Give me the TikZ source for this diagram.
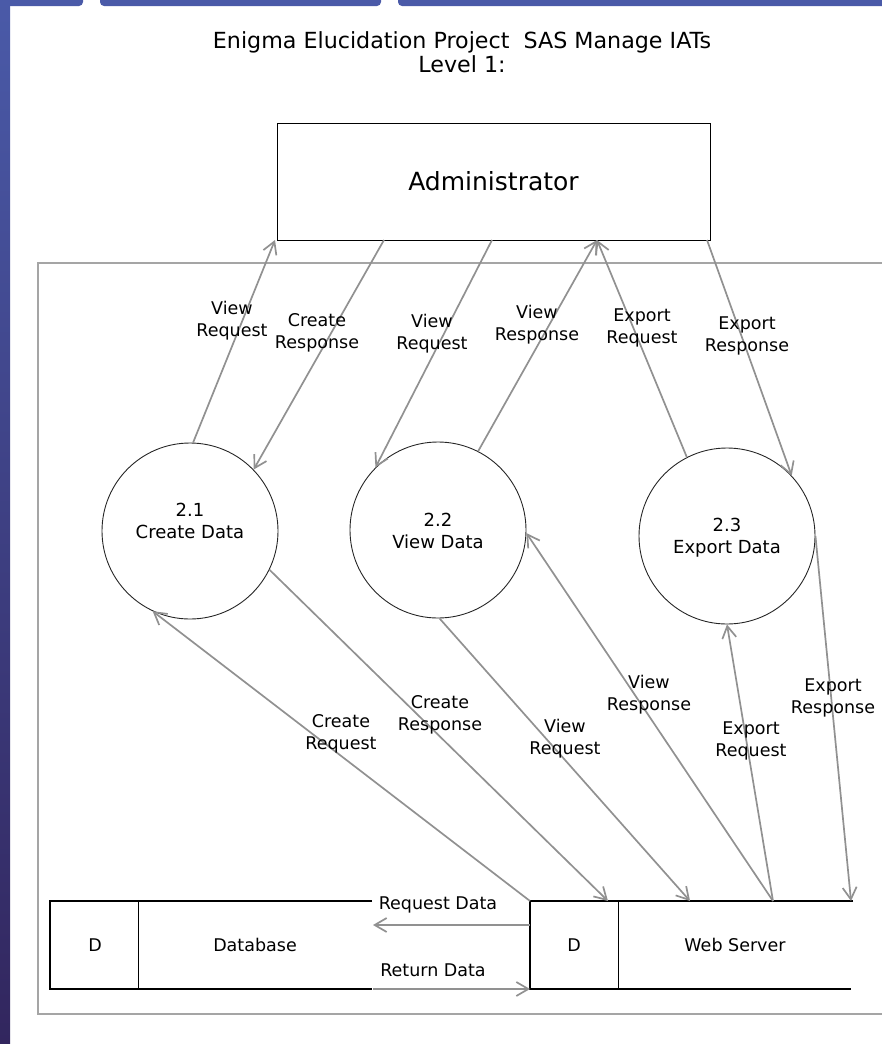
\documentclass[tikz,border=0pt]{standalone}
\usepackage{fontspec}
\setmainfont{DejaVu Sans}
\usetikzlibrary{arrows.meta}
\definecolor{barblue}{RGB}{74,90,168}
\definecolor{barpurple}{RGB}{50,38,94}
\definecolor{flowgray}{RGB}{145,145,145}
\definecolor{boxgray}{RGB}{165,165,165}

\begin{document}
\begin{tikzpicture}[x=1pt,y=-1pt,
  flow/.style={draw=flowgray,line width=1.7pt,-{Straight Barb[length=12pt,width=14pt]}},
  proc/.style={circle,draw=black!85,line width=0.9pt,minimum size=176pt,inner sep=0pt},
  lbl/.style={inner sep=0pt,align=center,font=\fontsize{17.5}{22}\selectfont},
  store/.style={black,line width=1.3pt}]
\useasboundingbox (0,0) rectangle (881,1044);
\shade[top color=barblue,bottom color=barpurple] (0,0) rectangle (10,1044);
\fill[barblue,rounded corners=4pt] (-10,-10) rectangle (83,6);
\fill[barblue,rounded corners=4pt] (100,-10) rectangle (381,6);
\fill[barblue,rounded corners=4pt] (398,-10) rectangle (891,6);
\node[font=\fontsize{22.2}{24}\selectfont,align=center] (title) at (462,52) {Enigma Elucidation Project\ \ SAS Manage IATs\\Level 1:};
\node[draw=black,line width=0.8pt,minimum width=433pt,minimum height=117pt,font=\fontsize{25}{30}\selectfont] (admin) at (493.5,181.5) {Administrator};
\draw[boxgray,line width=1.2pt] (890,263) -- (38,263) -- (38,1014) -- (890,1014);
\node[proc] (cd) at (190,531) {};
\node[proc] (vd) at (438,530) {};
\node[proc] (ed) at (727,536) {};
\node[lbl,font=\fontsize{18}{22}\selectfont] (cdt) at (190,521) {2.1\\Create Data};
\node[lbl,font=\fontsize{18}{22}\selectfont] (vdt) at (438,531) {2.2\\View Data};
\node[lbl,font=\fontsize{18}{22}\selectfont] (edt) at (727,538) {2.3\\Export Data};
\coordinate (a1) at (275,240);
\coordinate (a2) at (384,240);
\coordinate (a3) at (492,240);
\coordinate (a4) at (597,240);
\coordinate (a5) at (707,240);
\draw[flow] (cd.88) -- (a1);
\draw[flow] (a2) -- (cd.44);
\draw[flow] (a3) -- (vd.135);
\draw[flow] (vd.63) -- (a4);
\draw[flow] (ed.117) -- (a4);
\draw[flow] (a5) -- (ed.43);
\node[lbl] (vr1) at (232,321) {View\\Request};
\node[lbl] (cr1) at (317,333) {Create\\Response};
\node[lbl] (vr2) at (432,334) {View\\Request};
\node[lbl] (vs1) at (537,325) {View\\Response};
\node[lbl] (er1) at (642,328) {Export\\Request};
\node[lbl] (es1) at (747,336) {Export\\Response};
\draw[store] (372,901) -- (50,901) -- (50,989) -- (372,989);
\draw[store,line width=0.8pt] (138,901) -- (138,989);
\draw[store] (853,901) -- (530,901) -- (530,989) -- (851,989);
\draw[store,line width=0.8pt] (618,901) -- (618,989);
\node[lbl] (dbD) at (95,945) {D};
\node[lbl] (db) at (255,945) {Database};
\node[lbl] (wsD) at (574,945) {D};
\node[lbl] (ws) at (735,945) {Web Server};
\coordinate (w1) at (530,901);
\coordinate (w2) at (608,901);
\coordinate (w3) at (690,901);
\coordinate (w4) at (773,901);
\coordinate (w5) at (851,901);
\draw[flow] (w1) -- (cd.245);
\draw[flow] (cd.-26) -- (w2);
\draw[flow] (vd.271) -- (w3);
\draw[flow] (w4) -- (vd.-2);
\draw[flow] (w4) -- (ed.270);
\draw[flow] (ed.0) -- (w5);
\node[lbl] (cq2) at (341,734) {Create\\Request};
\node[lbl] (cr2) at (440,715) {Create\\Response};
\node[lbl] (vr3) at (565,739) {View\\Request};
\node[lbl] (vs2) at (649,695) {View\\Response};
\node[lbl] (er2) at (751,741) {Export\\Request};
\node[lbl] (es2) at (833,698) {Export\\Response};
\coordinate (ws-in) at (530,925);
\coordinate (db-out) at (373,925);
\coordinate (db-in) at (373,989);
\coordinate (ws-out) at (530,989);
\draw[flow] (ws-in) -- (db-out);
\draw[flow] (db-in) -- (ws-out);
\node[lbl] (rq) at (438,905) {Request Data};
\node[lbl] (rt) at (433,970) {Return Data};
\end{tikzpicture}
\end{document}
